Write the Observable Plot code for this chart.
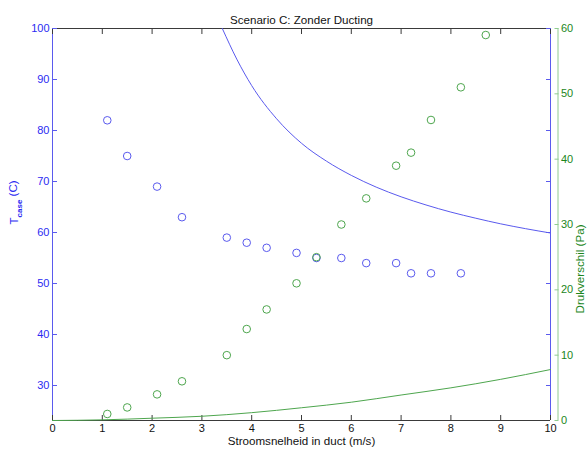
<!DOCTYPE html>
<html><head><meta charset="utf-8">
<script src="https://cdn.jsdelivr.net/npm/d3@7"></script>
<script src="https://cdn.jsdelivr.net/npm/@observablehq/plot@0.6"></script>
<style>body{margin:0;background:#fff;}</style>
</head><body><div id="chart"></div>
<script>
const title = "Scenario C: Zonder Ducting";
const xLabel = "Stroomsnelheid in duct (m/s)";
const yLeftLabel = ["T", "case", " (C)"];
const yRightLabel = "Drukverschil (Pa)";

// measured points: case temperature (left axis)
const speedT = [1.1, 1.5, 2.1, 2.6, 3.5, 3.9, 4.3, 4.9, 5.3, 5.8, 6.3, 6.9, 7.2, 7.6, 8.2];
const tcase  = [82, 75, 69, 63, 59, 58, 57, 56, 55, 55, 54, 54, 52, 52, 52];
// measured points: pressure difference (right axis)
const speedP = [1.1, 1.5, 2.1, 2.6, 3.5, 3.9, 4.3, 4.9, 5.3, 5.8, 6.3, 6.9, 7.2, 7.6, 8.2, 8.7];
const druk   = [1, 2, 4, 6, 10, 14, 17, 21, 25, 30, 34, 39, 41, 46, 51, 59];
// model curve: temperature
const modelSpeedT = [3.41, 3.7, 4.0, 4.5, 5.0, 5.5, 6.0, 6.5, 7.0, 7.5, 8.0, 8.5, 9.0, 9.5, 10];
const modelT      = [100, 94.0, 88.8, 82.3, 77.5, 74.0, 71.2, 68.9, 67.0, 65.4, 64.0, 62.8, 61.7, 60.75, 59.9];
// model curve: pressure
const modelSpeedP = [0, 1, 2, 3, 4, 5, 6, 7, 8, 9, 10];
const modelP      = [0, 0.1, 0.35, 0.65, 1.2, 1.95, 2.8, 3.9, 5.0, 6.3, 7.8];

const xTicks = [0, 1, 2, 3, 4, 5, 6, 7, 8, 9, 10];
const leftTicks = [30, 40, 50, 60, 70, 80, 90, 100];
const rightTicks = [0, 10, 20, 30, 40, 50, 60];
const xDomain = [0, 10];
const leftDomain = [23.14, 100];
const rightDomain = [0, 60];

const toT = p => leftDomain[0] + (p - rightDomain[0]) * (leftDomain[1] - leftDomain[0]) / (rightDomain[1] - rightDomain[0]);
const toP = t => rightDomain[0] + (t - leftDomain[0]) * (rightDomain[1] - rightDomain[0]) / (leftDomain[1] - leftDomain[0]);

const tData = speedT.map((s, i) => ({s, v: tcase[i]}));
const pData = speedP.map((s, i) => ({s, v: druk[i]}));
const tModel = modelSpeedT.map((s, i) => ({s, v: modelT[i]}));
const pModel = modelSpeedP.map((s, i) => ({s, v: modelP[i]}));

const BLUE_TXT = "#2b2bf2", BLUE = "#5a5aee", GREEN_TXT = "#1c861c", GREEN = "#4ea64e", GREEN_AX = "#8fcc8f", FRAME = "#3a3a3a";
const LABEL_SIZE = 11.6;

const chart = Plot.plot({
  width: 587, height: 452,
  marginTop: 28, marginBottom: 32, marginLeft: 52, marginRight: 37,
  style: {fontFamily: "'Liberation Sans', Arial, sans-serif", fontSize: "11px", background: "#fff", overflow: "visible"},
  x: {domain: xDomain},
  y: {domain: leftDomain},
  marks: [
    Plot.ruleY([leftDomain[1]], {stroke: FRAME}),
    Plot.ruleY([leftDomain[0]], {stroke: FRAME}),
    Plot.ruleX([xDomain[0]], {stroke: BLUE}),
    Plot.ruleX([xDomain[1]], {stroke: BLUE}),
    Plot.ruleX([xDomain[1]], {stroke: GREEN_AX, dx: 7.5}),
    Plot.axisX(xTicks, {anchor: "bottom", tickSize: 5, dy: -5, fill: "none", stroke: FRAME}),
    Plot.axisX(xTicks, {anchor: "top", tickSize: 5, dy: 5, fill: "none", stroke: FRAME}),
    Plot.axisX(xTicks, {anchor: "bottom", tickSize: 0, tickPadding: 4, label: null, fill: "#111"}),
    Plot.axisY(leftTicks, {anchor: "left", tickSize: 5, dx: 5, fill: "none", stroke: BLUE}),
    Plot.axisY(leftTicks, {anchor: "left", tickSize: 0, tickPadding: 3, label: null, fill: BLUE_TXT}),
    Plot.axisY(leftTicks, {anchor: "right", tickSize: 5, dx: -5, fill: "none", stroke: BLUE}),
    Plot.axisY(rightTicks.map(toT), {anchor: "right", tickSize: 4, dx: 3.5, fill: "none", stroke: GREEN_AX}),
    Plot.axisY(rightTicks.map(toT), {anchor: "right", tickSize: 0, dx: 7.5, tickPadding: 3, label: null, fill: GREEN_TXT, tickFormat: d => String(Math.round(toP(d)))}),
    Plot.line(tModel, {x: "s", y: "v", stroke: BLUE, strokeWidth: 1, curve: "monotone-x"}),
    Plot.dot(tData, {x: "s", y: "v", r: 3.8, stroke: BLUE, strokeWidth: 1, fill: "none"}),
    Plot.line(pModel, {x: "s", y: d => toT(d.v), stroke: GREEN, strokeWidth: 1, curve: "monotone-x"}),
    Plot.dot(pData, {x: "s", y: d => toT(d.v), r: 3.8, stroke: GREEN, strokeWidth: 1, fill: "none"}),
    Plot.text([title], {frameAnchor: "top", dy: -13, fill: "#111", fontSize: LABEL_SIZE}),
    Plot.text([xLabel], {frameAnchor: "bottom", dy: 24, fill: "#111", fontSize: LABEL_SIZE}),
    Plot.text([yLeftLabel.join("")], {frameAnchor: "left", dx: -38, rotate: -90, fill: BLUE_TXT, fontSize: LABEL_SIZE}),
    Plot.text([yRightLabel], {frameAnchor: "right", dx: 30, rotate: -90, fill: GREEN_TXT, fontSize: LABEL_SIZE})
  ]
});
document.getElementById("chart").appendChild(chart);

// subscript in the left axis label
d3.select(chart).selectAll("text")
  .filter(function() { return this.textContent === yLeftLabel.join(""); })
  .each(function() {
    const t = d3.select(this);
    t.text(null);
    t.append("tspan").text(yLeftLabel[0]);
    t.append("tspan").attr("dy", "0.45em").attr("font-size", 8).attr("font-weight", "bold").text(yLeftLabel[1]);
    t.append("tspan").attr("dy", "-0.45em").text(yLeftLabel[2]);
  });
</script>
</body></html>
